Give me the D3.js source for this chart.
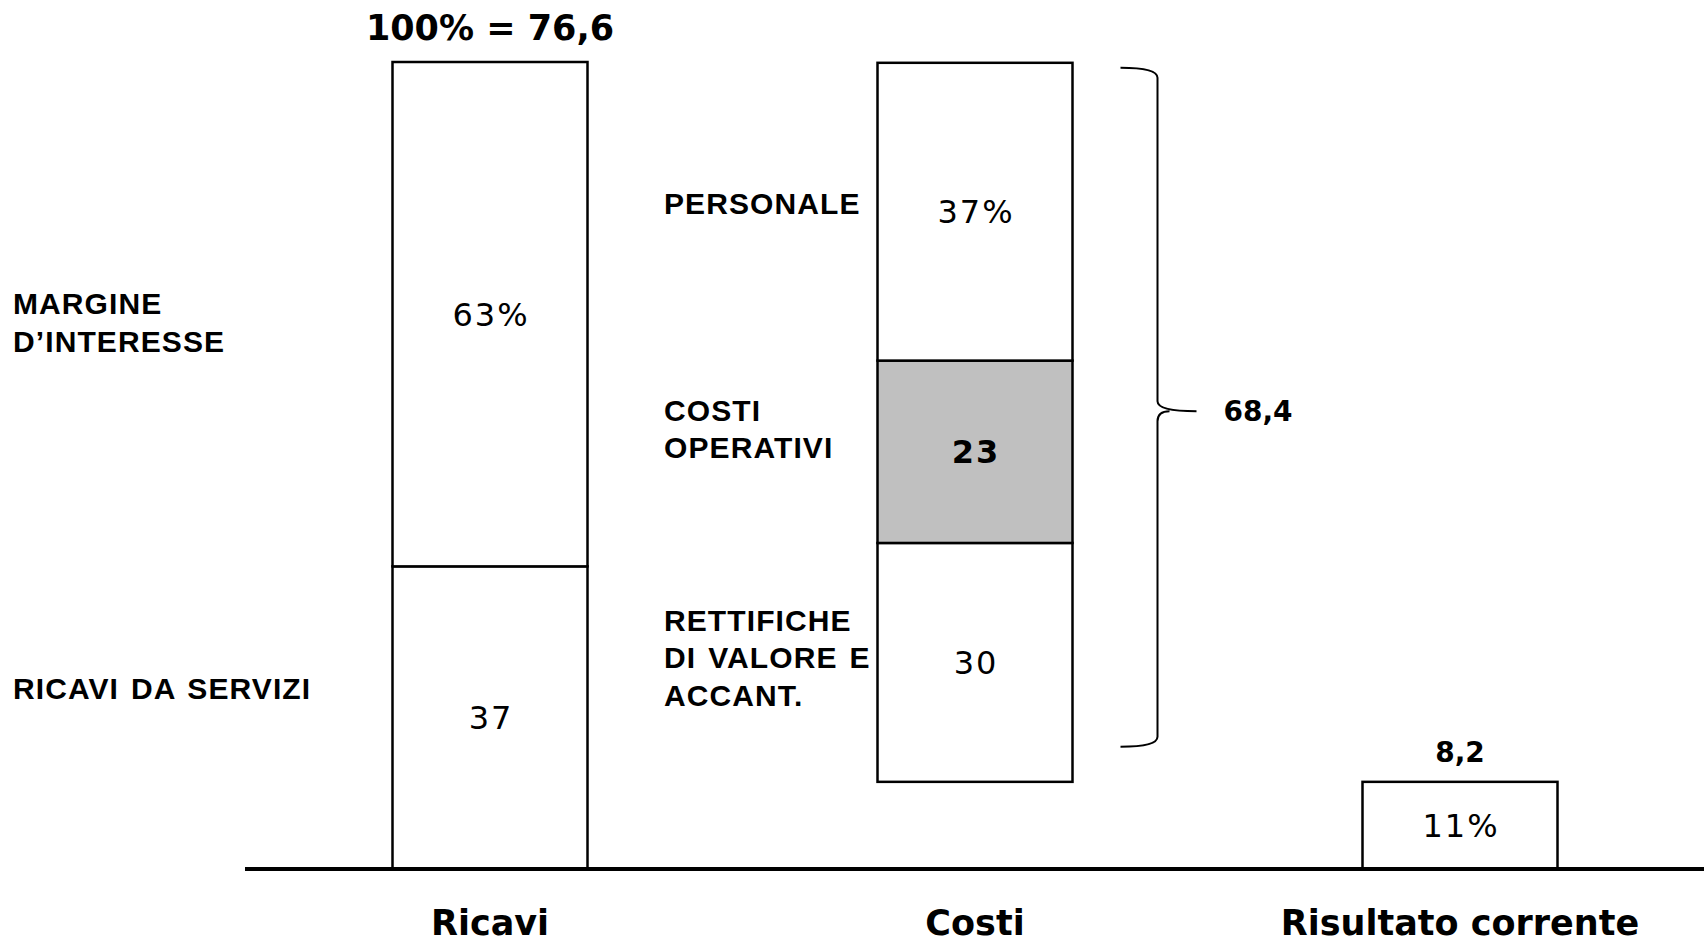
<!DOCTYPE html>
<html>
<head>
  <meta charset="UTF-8">
  <style>
body {
    margin: 0;
    padding: 0;
    background-color: white;
}
svg {
    display: block;
}
.side {
    font-family: "Liberation Sans", Arial, sans-serif;
    font-weight: bold;
    font-size: 30px;
    letter-spacing: 1.1px;
    word-spacing: 2.5px;
    fill: black;
}
.value {
    font-family: "DejaVu Sans", Verdana, sans-serif;
    font-size: 32px;
    letter-spacing: 2px;
    fill: black;
}
.total {
    font-family: "DejaVu Sans", Verdana, sans-serif;
    font-weight: bold;
    fill: black;
}
  </style>
</head>
<body>
<svg id="chart"></svg>

<script src="https://d3js.org/d3.v7.min.js"></script>
<script>

// ---- data (share of revenues, %) ----
const categories = ["Ricavi", "Costi", "Risultato corrente"];

const ricaviNames = [["RICAVI DA SERVIZI"], ["MARGINE", "D\u2019INTERESSE"]];
const ricaviValues = [37.5, 62.5];
const ricaviTexts = ["37", "63%"];

const costiNames = [["RETTIFICHE", "DI VALORE E", "ACCANT."], ["COSTI", "OPERATIVI"], ["PERSONALE"]];
const costiValues = [29.6, 22.6, 36.9];
const costiTexts = ["30", "23", "37%"];

const risultatoValue = 10.8;
const risultatoText = "11%";

const totalTexts = ["100% = 76,6", "68,4", "8,2"];

// ---- layout ----
let width = 1704, height = 941;
const baseY = 869, topY = 62;
const barWidth = 195;

let svg = d3.select("#chart")
    .attr("width", width)
    .attr("height", height);

let x = d3.scalePoint()
    .domain(categories)
    .range([490, 1460]);

let y = d3.scaleLinear()
    .domain([0, 100])
    .range([baseY, topY]);

// stack segments
function stack(values, start) {
  let acc = start;
  return values.map(v => {
    let s = { y0: acc, y1: acc + v };
    acc += v;
    return s;
  });
}

let ricaviSegs = stack(ricaviValues, 0).map((s, i) => ({
  ...s, cat: "Ricavi", names: ricaviNames[i], text: ricaviTexts[i], fill: "white", bold: false
}));
let costiSegs = stack(costiValues, risultatoValue).map((s, i) => ({
  ...s, cat: "Costi", names: costiNames[i], text: costiTexts[i],
  fill: i == 1 ? "#c0c0c0" : "white", bold: i == 1
}));
let risultatoSegs = [{ y0: 0, y1: risultatoValue, cat: "Risultato corrente", names: [], text: risultatoText, fill: "white", bold: false }];

let segs = ricaviSegs.concat(costiSegs, risultatoSegs);

// bars
svg.append("g")
  .selectAll("rect")
  .data(segs)
  .enter()
  .append("rect")
  .attr("x", d => x(d.cat) - barWidth / 2)
  .attr("y", d => y(d.y1))
  .attr("width", barWidth)
  .attr("height", d => y(d.y0) - y(d.y1))
  .attr("fill", d => d.fill)
  .attr("stroke", "black")
  .attr("stroke-width", 2.5);

// values inside the bars
svg.append("g")
  .selectAll("text")
  .data(segs)
  .enter()
  .append("text")
  .attr("class", "value")
  .attr("x", d => x(d.cat) + 1)
  .attr("y", d => y((d.y0 + d.y1) / 2))
  .attr("dy", "0.36em")
  .attr("text-anchor", "middle")
  .style("font-weight", d => d.bold ? "bold" : "normal")
  .text(d => d.text);

// side labels, offset from segment centre
const sideX = { "Ricavi": 13, "Costi": 664 };
const sideShift = [-29, 8, -5, -23, -8];
const lineH = 37.5;

segs.filter(d => d.names.length > 0).forEach((d, i) => {
  let cy = y((d.y0 + d.y1) / 2) + sideShift[i];
  let n = d.names.length;
  d.names.forEach((line, j) => {
    svg.append("text")
      .attr("class", "side")
      .attr("x", sideX[d.cat])
      .attr("y", cy + (j - (n - 1) / 2) * lineH)
      .attr("dy", "0.36em")
      .text(line);
  });
});

// baseline
svg.append("line")
  .attr("x1", 245)
  .attr("x2", width)
  .attr("y1", y(0))
  .attr("y2", y(0))
  .attr("stroke", "black")
  .attr("stroke-width", 4);

// category labels
svg.append("g")
  .selectAll("text")
  .data(categories)
  .enter()
  .append("text")
  .attr("class", "total")
  .attr("x", d => x(d))
  .attr("y", 935)
  .attr("text-anchor", "middle")
  .style("font-size", "35px")
  .text(d => d);

// totals
svg.append("text")
  .attr("class", "total")
  .attr("x", x("Ricavi"))
  .attr("y", y(100) - 22)
  .attr("text-anchor", "middle")
  .style("font-size", "35px")
  .text(totalTexts[0]);

svg.append("text")
  .attr("class", "total")
  .attr("x", x("Risultato corrente"))
  .attr("y", y(risultatoValue) - 20)
  .attr("text-anchor", "middle")
  .style("font-size", "28px")
  .text(totalTexts[2]);

// brace around the costs
let costiTop = risultatoValue + d3.sum(costiValues);
let bx0 = x("Costi") + barWidth / 2 + 48,
    bxv = bx0 + 37,
    bxt = bxv + 39,
    bTop = y(costiTop) + 5,
    bBot = y(risultatoValue) - 35,
    bMid = (bTop + bBot) / 2 + 4,
    r = 10;

let brace = d3.path();
brace.moveTo(bx0, bTop);
brace.quadraticCurveTo(bxv, bTop, bxv, bTop + r);
brace.lineTo(bxv, bMid - r);
brace.quadraticCurveTo(bxv, bMid, bxt, bMid);
brace.moveTo(bxv + 12, bMid);
brace.quadraticCurveTo(bxv, bMid, bxv, bMid + r);
brace.lineTo(bxv, bBot - r);
brace.quadraticCurveTo(bxv, bBot, bx0, bBot);

svg.append("path")
  .attr("d", brace.toString())
  .attr("fill", "none")
  .attr("stroke", "black")
  .attr("stroke-width", 2);

svg.append("text")
  .attr("class", "total")
  .attr("x", bxt + 27)
  .attr("y", bMid)
  .attr("dy", "0.36em")
  .style("font-size", "28px")
  .text(totalTexts[1]);

</script>
</body>
</html>
